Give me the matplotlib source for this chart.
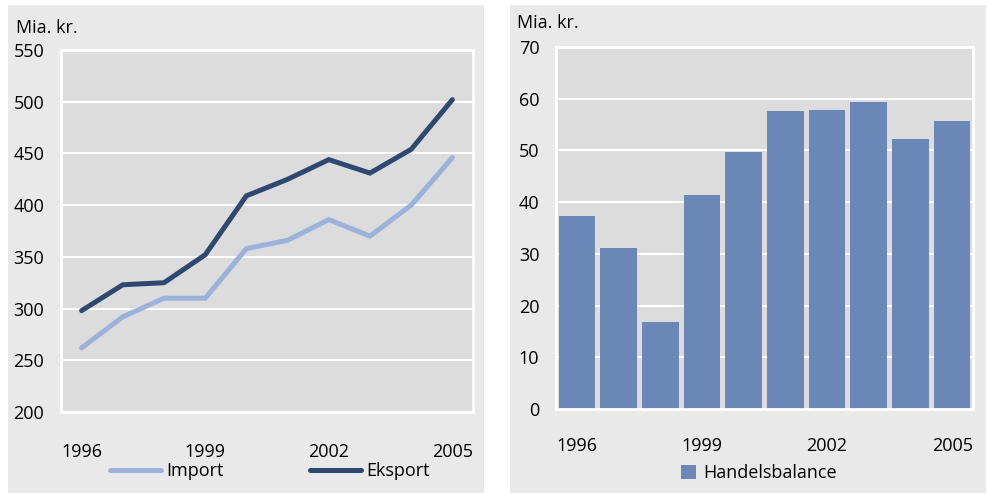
import matplotlib.pyplot as plt
from matplotlib.patches import Rectangle

plt.rcParams['font.family'] = ['Open Sans', 'DejaVu Sans']

# Data
years = [1996, 1997, 1998, 1999, 2000, 2001, 2002, 2003, 2004, 2005]
imports = [262, 292, 310, 310, 358, 366, 386, 370, 400, 446]
exports = [298, 323, 325, 352, 409, 425, 444, 431, 454, 502]
balance = [37.4, 31.2, 16.8, 41.4, 49.6, 57.6, 57.8, 59.4, 52.2, 55.7]
tick_years = [1996, 1999, 2002, 2005]

panel_color = '#e9e9e9'
plot_color = '#dcdcdc'
import_color = '#9db2da'
export_color = '#2f4870'
bar_color = '#6b87b8'
fs = 13

fig = plt.figure(figsize=(9.88, 4.95), dpi=100)
fig.patch.set_facecolor('white')

# grey panel backgrounds
for x0 in (8 / 988, 510 / 988):
    fig.patches.append(Rectangle((x0, 2 / 495), 476 / 988, 488 / 495,
                                 transform=fig.transFigure, facecolor=panel_color,
                                 edgecolor='none', zorder=-5))

ax1 = fig.add_axes([61 / 988, 83 / 495, 412 / 988, 362 / 495])
ax2 = fig.add_axes([556 / 988, 86 / 495, 417 / 988, 362 / 495])


def style_axes(ax):
    ax.set_zorder(2)
    ax.set_facecolor(plot_color)
    for sp in ax.spines.values():
        sp.set_color('white')
        sp.set_linewidth(2)
    ax.grid(axis='y', color='white', linewidth=1.5)
    ax.set_axisbelow(True)
    ax.tick_params(length=0, labelsize=fs, colors='black')
    ax.tick_params(axis='x', pad=22)
    ax.tick_params(axis='y', pad=12)


x = list(range(len(years)))
tick_pos = [years.index(y) for y in tick_years]

# Left: import / export lines
style_axes(ax1)
ax1.plot(x, imports, color=import_color, linewidth=3.6, solid_capstyle='round',
         solid_joinstyle='miter', label='Import')
ax1.plot(x, exports, color=export_color, linewidth=3.6, solid_capstyle='round',
         solid_joinstyle='miter', label='Eksport')
ax1.set_xlim(-0.5, 9.5)
ax1.set_ylim(200, 550)
ax1.set_yticks(range(200, 551, 50))
ax1.set_xticks(tick_pos)
ax1.set_xticklabels([str(y) for y in tick_years])
fig.text(16 / 988, 1 - 28 / 495, 'Mia. kr.', fontsize=fs, va='center', ha='left')
ax1.legend(loc='upper left', bbox_to_anchor=(110 / 988, 1 - 462 / 495),
           bbox_transform=fig.transFigure, ncol=2, frameon=False, fontsize=fs,
           handlelength=2.8, handletextpad=0.3, columnspacing=4.8, borderpad=0,
           borderaxespad=0)

# Right: trade balance bars
style_axes(ax2)
ax2.bar(x, balance, width=0.88, color=bar_color, label='Handelsbalance', zorder=2)
ax2.set_xlim(-0.5, 9.5)
ax2.set_ylim(0, 70)
ax2.set_yticks(range(0, 71, 10))
ax2.set_xticks(tick_pos)
ax2.set_xticklabels([str(y) for y in tick_years])
ax2.tick_params(axis='x', pad=20)
fig.text(517 / 988, 1 - 23 / 495, 'Mia. kr.', fontsize=fs, va='center', ha='left')
ax2.legend(loc='upper left', bbox_to_anchor=(681 / 988, 1 - 464 / 495),
           bbox_transform=fig.transFigure, frameon=False, fontsize=fs,
           handlelength=0.85, handleheight=0.85, handletextpad=0.4, borderpad=0,
           borderaxespad=0)

fig.savefig('out.png', dpi=100, facecolor='white')
